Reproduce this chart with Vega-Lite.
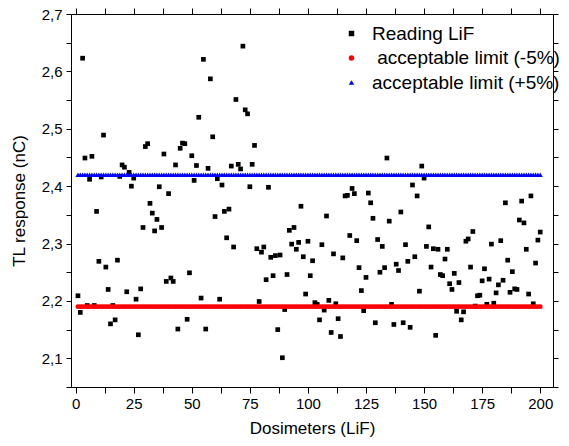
{
  "$schema": "https://vega.github.io/schema/vega-lite/v6.json",
  "width": 482,
  "height": 373,
  "autosize": {"type": "none"},
  "padding": {"left": 71, "top": 14, "right": 16, "bottom": 59},
  "background": "white",
  "config": {
    "font": "Liberation Sans",
    "view": {"stroke": null},
    "axis": {
      "grid": false,
      "domainColor": "black",
      "tickColor": "black",
      "labelColor": "black",
      "titleColor": "black",
      "labelFont": "Liberation Sans",
      "titleFont": "Liberation Sans",
      "titleFontWeight": "normal",
      "domainWidth": 1,
      "tickWidth": 1
    },
    "legend": {
      "labelFont": "Liberation Sans",
      "labelFontSize": 19,
      "labelColor": "black",
      "labelLimit": 0,
      "symbolSize": 30,
      "rowPadding": 4.5,
      "labelOffset": 11,
      "padding": 0
    }
  },
  "data": {
    "values": [
      {"dosimeter": 1, "response": 2.209}, {"dosimeter": 2, "response": 2.180}, {"dosimeter": 3, "response": 2.623}, {"dosimeter": 4, "response": 2.449}, {"dosimeter": 5, "response": 2.192},
      {"dosimeter": 6, "response": 2.412}, {"dosimeter": 7, "response": 2.452}, {"dosimeter": 8, "response": 2.192}, {"dosimeter": 9, "response": 2.356}, {"dosimeter": 10, "response": 2.269},
      {"dosimeter": 11, "response": 2.416}, {"dosimeter": 12, "response": 2.489}, {"dosimeter": 13, "response": 2.259}, {"dosimeter": 14, "response": 2.220}, {"dosimeter": 15, "response": 2.160},
      {"dosimeter": 16, "response": 2.192}, {"dosimeter": 17, "response": 2.167}, {"dosimeter": 18, "response": 2.271}, {"dosimeter": 19, "response": 2.417}, {"dosimeter": 20, "response": 2.437},
      {"dosimeter": 21, "response": 2.433}, {"dosimeter": 22, "response": 2.216}, {"dosimeter": 23, "response": 2.424}, {"dosimeter": 24, "response": 2.400}, {"dosimeter": 25, "response": 2.414},
      {"dosimeter": 26, "response": 2.203}, {"dosimeter": 27, "response": 2.141}, {"dosimeter": 28, "response": 2.221}, {"dosimeter": 29, "response": 2.328}, {"dosimeter": 30, "response": 2.469},
      {"dosimeter": 31, "response": 2.474}, {"dosimeter": 32, "response": 2.370}, {"dosimeter": 33, "response": 2.353}, {"dosimeter": 34, "response": 2.322}, {"dosimeter": 35, "response": 2.342},
      {"dosimeter": 36, "response": 2.399}, {"dosimeter": 37, "response": 2.328}, {"dosimeter": 38, "response": 2.456}, {"dosimeter": 39, "response": 2.234}, {"dosimeter": 40, "response": 2.387},
      {"dosimeter": 41, "response": 2.240}, {"dosimeter": 42, "response": 2.234}, {"dosimeter": 43, "response": 2.437}, {"dosimeter": 44, "response": 2.151}, {"dosimeter": 45, "response": 2.466},
      {"dosimeter": 46, "response": 2.475}, {"dosimeter": 47, "response": 2.474}, {"dosimeter": 48, "response": 2.168}, {"dosimeter": 49, "response": 2.249}, {"dosimeter": 50, "response": 2.453},
      {"dosimeter": 51, "response": 2.410}, {"dosimeter": 52, "response": 2.436}, {"dosimeter": 53, "response": 2.520}, {"dosimeter": 54, "response": 2.205}, {"dosimeter": 55, "response": 2.621},
      {"dosimeter": 56, "response": 2.151}, {"dosimeter": 57, "response": 2.431}, {"dosimeter": 58, "response": 2.587}, {"dosimeter": 59, "response": 2.486}, {"dosimeter": 60, "response": 2.347},
      {"dosimeter": 61, "response": 2.413}, {"dosimeter": 62, "response": 2.203}, {"dosimeter": 63, "response": 2.402}, {"dosimeter": 64, "response": 2.356}, {"dosimeter": 65, "response": 2.310},
      {"dosimeter": 66, "response": 2.360}, {"dosimeter": 67, "response": 2.435}, {"dosimeter": 68, "response": 2.294}, {"dosimeter": 69, "response": 2.551}, {"dosimeter": 70, "response": 2.438},
      {"dosimeter": 71, "response": 2.430}, {"dosimeter": 72, "response": 2.644}, {"dosimeter": 73, "response": 2.533}, {"dosimeter": 74, "response": 2.526}, {"dosimeter": 75, "response": 2.399},
      {"dosimeter": 76, "response": 2.438}, {"dosimeter": 77, "response": 2.471}, {"dosimeter": 78, "response": 2.291}, {"dosimeter": 79, "response": 2.199}, {"dosimeter": 80, "response": 2.285},
      {"dosimeter": 81, "response": 2.294}, {"dosimeter": 82, "response": 2.237}, {"dosimeter": 83, "response": 2.398}, {"dosimeter": 84, "response": 2.276}, {"dosimeter": 85, "response": 2.244},
      {"dosimeter": 86, "response": 2.279}, {"dosimeter": 87, "response": 2.150}, {"dosimeter": 88, "response": 2.280}, {"dosimeter": 89, "response": 2.101}, {"dosimeter": 90, "response": 2.185},
      {"dosimeter": 91, "response": 2.246}, {"dosimeter": 92, "response": 2.323}, {"dosimeter": 93, "response": 2.299}, {"dosimeter": 94, "response": 2.328}, {"dosimeter": 95, "response": 2.290},
      {"dosimeter": 96, "response": 2.302}, {"dosimeter": 97, "response": 2.365}, {"dosimeter": 98, "response": 2.277}, {"dosimeter": 99, "response": 2.212}, {"dosimeter": 100, "response": 2.304},
      {"dosimeter": 101, "response": 2.244}, {"dosimeter": 102, "response": 2.270}, {"dosimeter": 103, "response": 2.197}, {"dosimeter": 104, "response": 2.194}, {"dosimeter": 105, "response": 2.167},
      {"dosimeter": 106, "response": 2.298}, {"dosimeter": 107, "response": 2.184}, {"dosimeter": 108, "response": 2.348}, {"dosimeter": 109, "response": 2.201}, {"dosimeter": 110, "response": 2.145},
      {"dosimeter": 111, "response": 2.282}, {"dosimeter": 112, "response": 2.195}, {"dosimeter": 113, "response": 2.169}, {"dosimeter": 114, "response": 2.138}, {"dosimeter": 115, "response": 2.275},
      {"dosimeter": 116, "response": 2.383}, {"dosimeter": 117, "response": 2.384}, {"dosimeter": 118, "response": 2.314}, {"dosimeter": 119, "response": 2.396}, {"dosimeter": 120, "response": 2.387},
      {"dosimeter": 121, "response": 2.305}, {"dosimeter": 122, "response": 2.258}, {"dosimeter": 123, "response": 2.218}, {"dosimeter": 124, "response": 2.183}, {"dosimeter": 125, "response": 2.241},
      {"dosimeter": 126, "response": 2.388}, {"dosimeter": 127, "response": 2.371}, {"dosimeter": 128, "response": 2.344}, {"dosimeter": 129, "response": 2.162}, {"dosimeter": 130, "response": 2.307},
      {"dosimeter": 131, "response": 2.250}, {"dosimeter": 132, "response": 2.295}, {"dosimeter": 133, "response": 2.258}, {"dosimeter": 134, "response": 2.449}, {"dosimeter": 135, "response": 2.339},
      {"dosimeter": 136, "response": 2.194}, {"dosimeter": 137, "response": 2.159}, {"dosimeter": 138, "response": 2.264}, {"dosimeter": 139, "response": 2.253}, {"dosimeter": 140, "response": 2.355},
      {"dosimeter": 141, "response": 2.162}, {"dosimeter": 142, "response": 2.298}, {"dosimeter": 143, "response": 2.269}, {"dosimeter": 144, "response": 2.154}, {"dosimeter": 145, "response": 2.402},
      {"dosimeter": 146, "response": 2.277}, {"dosimeter": 147, "response": 2.383}, {"dosimeter": 148, "response": 2.217}, {"dosimeter": 149, "response": 2.435}, {"dosimeter": 150, "response": 2.414},
      {"dosimeter": 151, "response": 2.295}, {"dosimeter": 152, "response": 2.329}, {"dosimeter": 153, "response": 2.259}, {"dosimeter": 154, "response": 2.291}, {"dosimeter": 155, "response": 2.140},
      {"dosimeter": 156, "response": 2.290}, {"dosimeter": 157, "response": 2.246}, {"dosimeter": 158, "response": 2.244}, {"dosimeter": 159, "response": 2.273}, {"dosimeter": 160, "response": 2.290},
      {"dosimeter": 161, "response": 2.230}, {"dosimeter": 162, "response": 2.220}, {"dosimeter": 163, "response": 2.248}, {"dosimeter": 164, "response": 2.182}, {"dosimeter": 165, "response": 2.232},
      {"dosimeter": 166, "response": 2.167}, {"dosimeter": 167, "response": 2.181}, {"dosimeter": 168, "response": 2.304}, {"dosimeter": 169, "response": 2.308}, {"dosimeter": 170, "response": 2.259},
      {"dosimeter": 171, "response": 2.321}, {"dosimeter": 172, "response": 2.191}, {"dosimeter": 173, "response": 2.209}, {"dosimeter": 174, "response": 2.210}, {"dosimeter": 175, "response": 2.235},
      {"dosimeter": 176, "response": 2.256}, {"dosimeter": 177, "response": 2.194}, {"dosimeter": 178, "response": 2.238}, {"dosimeter": 179, "response": 2.299}, {"dosimeter": 180, "response": 2.196},
      {"dosimeter": 181, "response": 2.214}, {"dosimeter": 182, "response": 2.228}, {"dosimeter": 183, "response": 2.305}, {"dosimeter": 184, "response": 2.236}, {"dosimeter": 185, "response": 2.371},
      {"dosimeter": 186, "response": 2.271}, {"dosimeter": 187, "response": 2.215}, {"dosimeter": 188, "response": 2.251}, {"dosimeter": 189, "response": 2.221}, {"dosimeter": 190, "response": 2.220},
      {"dosimeter": 191, "response": 2.341}, {"dosimeter": 192, "response": 2.374}, {"dosimeter": 193, "response": 2.336}, {"dosimeter": 194, "response": 2.290}, {"dosimeter": 195, "response": 2.212},
      {"dosimeter": 196, "response": 2.383}, {"dosimeter": 197, "response": 2.195}, {"dosimeter": 198, "response": 2.266}, {"dosimeter": 199, "response": 2.306}, {"dosimeter": 200, "response": 2.320}
    ]
  },
  "layer": [
    {
      "mark": {"type": "point", "filled": true, "size": 22, "opacity": 1},
      "encoding": {
        "x": {
          "field": "dosimeter", "type": "quantitative",
          "scale": {"domain": [-2, 205.5], "nice": false, "zero": false},
          "axis": {
            "orient": "bottom",
            "values": [0, 12.5, 25, 37.5, 50, 62.5, 75, 87.5, 100, 112.5, 125, 137.5, 150, 162.5, 175, 187.5, 200],
            "labelExpr": "datum.value % 25 === 0 ? datum.label : ''",
            "tickSize": 6,
            "labelFontSize": 15,
            "labelPadding": 3,
            "labelFlush": false,
            "title": "Dosimeters (LiF)",
            "titleFontSize": 17,
            "titlePadding": 9,
            "encode": {"ticks": {"update": {"y2": {"signal": "datum.value % 25 === 0 ? 6 : 3"}}}}
          }
        },
        "y": {
          "field": "response", "type": "quantitative",
          "scale": {"domain": [2.05, 2.7], "nice": false, "zero": false},
          "axis": {
            "orient": "left",
            "values": [2.05, 2.1, 2.15, 2.2, 2.25, 2.3, 2.35, 2.4, 2.45, 2.5, 2.55, 2.6, 2.65, 2.7],
            "labelExpr": "abs(datum.value * 10 - round(datum.value * 10)) < 0.01 ? replace(format(datum.value, '.1f'), '.', ',') : ''",
            "tickSize": 5,
            "labelFontSize": 15,
            "labelPadding": 4,
            "labelFlush": false,
            "title": "TL response (nC)",
            "titleFontSize": 17,
            "titlePadding": 13
          }
        },
        "color": {
          "datum": "Reading LiF", "type": "nominal",
          "scale": {"domain": ["Reading LiF", "acceptable limit (-5%)", "acceptable limit (+5%)"], "range": ["black", "red", "blue"]},
          "legend": {"orient": "none", "legendX": 271, "legendY": 10, "title": null,
            "labelExpr": "datum.label === 'acceptable limit (-5%)' ? '\u200b\u00a0acceptable limit (-5%)' : datum.label"}
        },
        "shape": {
          "datum": "Reading LiF", "type": "nominal",
          "scale": {"domain": ["Reading LiF", "acceptable limit (-5%)", "acceptable limit (+5%)"], "range": ["square", "circle", "triangle-up"]},
          "legend": {"orient": "none", "legendX": 271, "legendY": 10, "title": null,
            "labelExpr": "datum.label === 'acceptable limit (-5%)' ? '\u200b\u00a0acceptable limit (-5%)' : datum.label"}
        }
      }
    },
    {
      "mark": {"type": "point", "filled": true, "size": 24, "opacity": 1},
      "encoding": {
        "x": {
          "field": "dosimeter", "type": "quantitative",
          "axis": {
            "orient": "top",
            "values": [0, 12.5, 25, 37.5, 50, 62.5, 75, 87.5, 100, 112.5, 125, 137.5, 150, 162.5, 175, 187.5, 200],
            "labels": false,
            "title": null,
            "tickSize": 6,
            "encode": {"ticks": {"update": {"y2": {"signal": "datum.value % 25 === 0 ? 6 : 3"}}}}
          }
        },
        "y": {
          "datum": 2.19, "type": "quantitative",
          "axis": {
            "orient": "right",
            "values": [2.05, 2.1, 2.15, 2.2, 2.25, 2.3, 2.35, 2.4, 2.45, 2.5, 2.55, 2.6, 2.65, 2.7],
            "labels": false,
            "title": null,
            "tickSize": 5,
            "encode": {"ticks": {"update": {"x2": {"value": -5}}}}
          }
        },
        "color": {"datum": "acceptable limit (-5%)", "type": "nominal"},
        "shape": {"datum": "acceptable limit (-5%)", "type": "nominal"}
      }
    },
    {
      "mark": {"type": "point", "filled": true, "size": 26, "opacity": 1},
      "encoding": {
        "x": {"field": "dosimeter", "type": "quantitative", "axis": null},
        "y": {"datum": 2.42, "type": "quantitative", "axis": null},
        "color": {"datum": "acceptable limit (+5%)", "type": "nominal"},
        "shape": {"datum": "acceptable limit (+5%)", "type": "nominal"}
      }
    }
  ]
}
